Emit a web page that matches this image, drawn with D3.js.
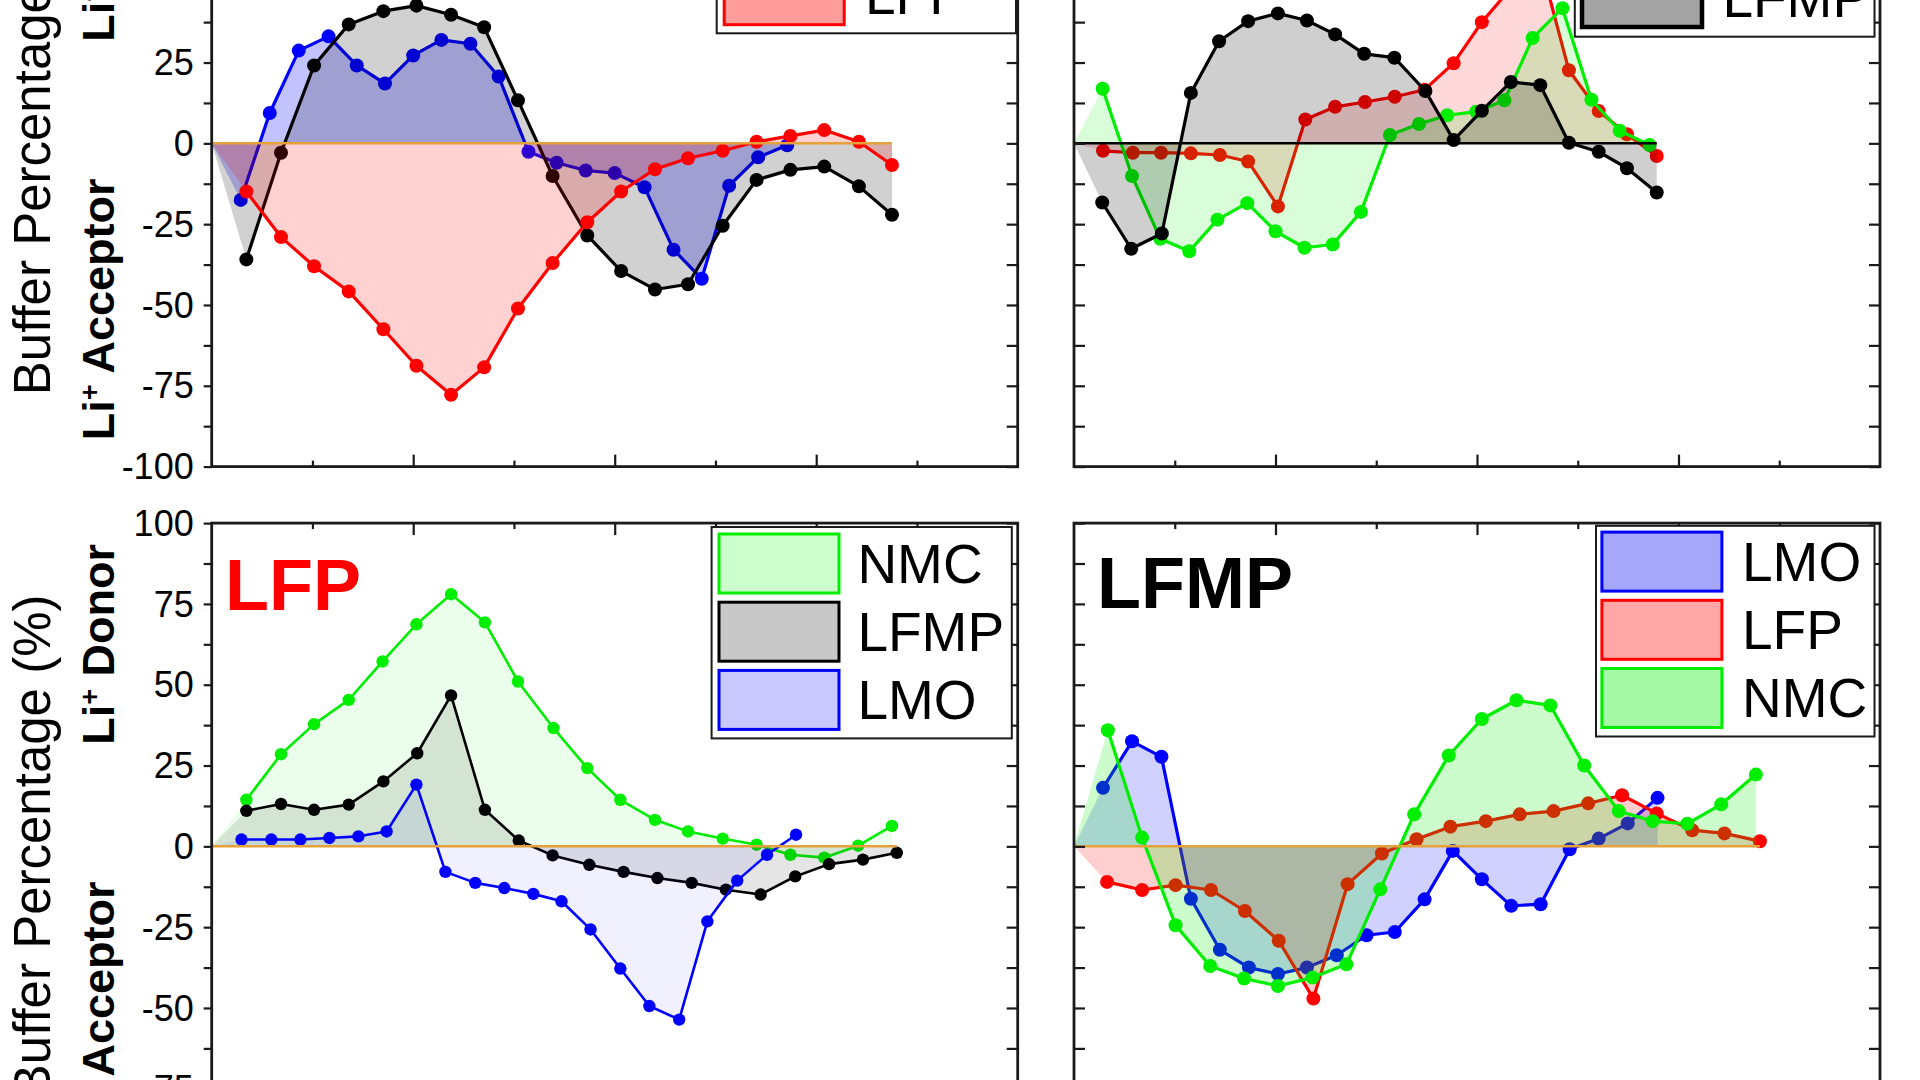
<!DOCTYPE html>
<html>
<head>
<meta charset="utf-8">
<script src="https://cdn.jsdelivr.net/npm/d3@7"></script>
<style>
  body { margin: 0; background: #fff; }
  svg { display: block; }
  text { font-family: "Liberation Sans", Arial, sans-serif; }
</style>
</head>
<body>
<svg id="svg"></svg>
<script>

// DATA  (x = position along the axis in %, y = buffer percentage in %)

// top-left panel (NMC)
var nmcLMO_x  = [3.6, 7.2, 10.8, 14.5, 18.0, 21.5, 25.0, 28.5, 32.1, 35.6, 39.3, 42.8, 46.4, 50.0, 53.7, 57.3, 60.8, 64.2, 67.8, 71.4];
var nmcLMO_y  = [-17.5, 9.4, 28.7, 33.1, 24.1, 18.5, 27.2, 32.0, 30.8, 20.7, -2.6, -6.0, -8.4, -9.2, -13.6, -32.9, -41.9, -13.1, -4.3, -0.6];
var nmcLFMP_x = [4.3, 8.6, 12.7, 17.0, 21.3, 25.4, 29.7, 33.8, 38.0, 42.3, 46.6, 50.8, 55.0, 59.1, 63.4, 67.6, 71.8, 76.0, 80.3, 84.4];
var nmcLFMP_y = [-35.9, -2.9, 24.1, 36.8, 40.9, 42.6, 39.8, 35.9, 13.3, -10.1, -28.5, -39.5, -45.2, -43.6, -25.5, -11.3, -8.2, -7.2, -13.3, -22.1];
var nmcLFP_x  = [4.3, 8.6, 12.7, 17.0, 21.3, 25.4, 29.7, 33.8, 38.0, 42.3, 46.6, 50.8, 55.0, 59.1, 63.4, 67.6, 71.8, 76.0, 80.3, 84.4];
var nmcLFP_y  = [-14.9, -29.0, -38.0, -45.8, -57.5, -68.8, -77.8, -69.3, -51.1, -37.0, -24.4, -14.9, -8.0, -4.6, -2.3, 0.5, 2.3, 4.1, 0.5, -6.7];

// top-right panel (LMO)
var lmoLFP_x  = [3.6, 7.3, 10.8, 14.5, 18.1, 21.6, 25.3, 28.7, 32.4, 36.1, 39.8, 43.5, 47.1, 50.6, 54.2, 57.9, 61.4, 65.1, 68.6, 72.3];
var lmoLFP_y  = [-2.3, -2.9, -2.9, -3.1, -3.6, -5.6, -19.5, 7.4, 11.3, 12.8, 14.4, 16.6, 24.8, 37.5, 48.0, 55.5, 22.6, 10.0, 2.8, -3.9];
var lmoNMC_x  = [3.55, 7.2, 10.7, 14.3, 17.8, 21.5, 25.0, 28.6, 32.1, 35.6, 39.2, 42.8, 46.3, 49.9, 53.4, 56.9, 60.6, 64.2, 67.7, 71.4];
var lmoNMC_y  = [16.9, -10.1, -29.5, -33.4, -23.6, -18.5, -27.2, -32.3, -31.3, -21.2, 2.6, 6.0, 8.7, 9.8, 13.3, 32.6, 41.8, 13.5, 3.9, -0.5];
var lmoLFMP_x = [3.5, 7.1, 10.9, 14.5, 18.0, 21.6, 25.3, 28.9, 32.4, 36.0, 39.75, 43.6, 47.1, 50.6, 54.2, 57.85, 61.4, 65.1, 68.6, 72.3];
var lmoLFMP_y = [-18.3, -32.6, -27.9, 15.6, 31.6, 37.8, 40.2, 38.0, 33.7, 27.7, 26.5, 16.2, 1.0, 10.1, 19.0, 18.0, 0.2, -2.6, -7.7, -15.2];

// bottom-left panel (LFP)
var lfpNMC_x  = [4.3, 8.6, 12.7, 17.0, 21.2, 25.4, 29.7, 33.9, 38.0, 42.4, 46.6, 50.7, 55.0, 59.1, 63.4, 67.6, 71.8, 76.0, 80.2, 84.4];
var lfpNMC_y  = [14.4, 28.5, 37.8, 45.3, 57.2, 68.7, 78.0, 69.3, 51.0, 36.6, 24.2, 14.4, 8.2, 4.6, 2.4, 0.5, -2.6, -3.5, 0.2, 6.3];
var lfpLFMP_x = [4.3, 8.6, 12.7, 17.0, 21.3, 25.5, 29.7, 33.9, 38.1, 42.3, 46.85, 51.1, 55.3, 59.55, 63.8, 68.1, 72.4, 76.6, 80.8, 85.0];
var lfpLFMP_y = [11.0, 13.1, 11.3, 12.9, 20.1, 28.8, 46.7, 11.3, 1.8, -2.8, -5.7, -7.9, -9.8, -11.3, -13.4, -14.9, -9.3, -5.5, -4.1, -2.0];
var lfpLMO_x  = [3.7, 7.4, 11.0, 14.6, 18.2, 21.7, 25.4, 29.0, 32.7, 36.3, 39.9, 43.4, 47.0, 50.7, 54.3, 58.0, 61.5, 65.2, 68.9, 72.5];
var lfpLMO_y  = [2.1, 2.1, 2.1, 2.6, 3.1, 4.6, 19.1, -7.9, -11.3, -12.9, -14.7, -17.0, -25.7, -37.8, -49.4, -53.6, -23.2, -10.6, -2.6, 3.6];

// bottom-right panel (LFMP)
var lfmpLMO_x = [3.6, 7.2, 10.85, 14.5, 18.1, 21.7, 25.3, 28.9, 32.6, 36.3, 39.8, 43.5, 47.0, 50.6, 54.25, 57.9, 61.5, 65.1, 68.7, 72.4];
var lfmpLMO_y = [18.1, 32.5, 27.7, -16.2, -32.0, -37.5, -39.5, -37.5, -33.7, -27.5, -26.5, -16.4, -1.4, -10.2, -18.4, -17.9, -0.9, 2.4, 7.1, 15.0];
var lfmpLFP_x = [4.1, 8.45, 12.6, 17.0, 21.2, 25.4, 29.7, 33.95, 38.2, 42.5, 46.7, 51.1, 55.3, 59.5, 63.8, 68.0, 72.3, 76.7, 80.7, 85.1];
var lfmpLFP_y = [-11.0, -13.5, -12.0, -13.5, -20.0, -29.2, -47.1, -11.7, -2.2, 2.2, 6.1, 7.8, 9.9, 10.9, 13.3, 15.8, 10.2, 5.0, 4.0, 1.6];
var lfmpNMC_x = [4.2, 8.45, 12.6, 16.9, 21.1, 25.3, 29.6, 33.8, 38.0, 42.2, 46.5, 50.6, 54.9, 59.1, 63.3, 67.6, 71.8, 76.1, 80.3, 84.6];
var lfmpNMC_y = [35.9, 2.7, -24.4, -37.0, -40.9, -43.2, -40.6, -36.5, -13.3, 9.9, 28.1, 39.4, 45.2, 43.6, 25.0, 10.9, 7.8, 7.0, 13.0, 22.2];

// axis ticks
var yTickValues = [-100, -87.5, -75, -62.5, -50, -37.5, -25, -12.5, 0, 12.5, 25, 37.5, 50, 62.5, 75, 87.5, 100];
var yTickLabels = [-100, -75, -50, -25, 0, 25, 50, 75, 100];
var xTickValues = [12.5, 25, 37.5, 50, 62.5, 75, 87.5];

// legend entries (only the ones that are in view)
var legendTL = ["LFP"];
var legendTR = ["LFMP"];
var legendBL = ["NMC", "LFMP", "LMO"];
var legendBR = ["LMO", "LFP", "NMC"];

var titleBL = "LFP";
var titleBR = "LFMP";


// SETUP

svg = d3.select("#svg")
          .attr("width", 1920)
          .attr("height", 1080);

svg.append("rect").attr("width",1920).attr("height",1080).attr("fill","#fff");

var PW = 806, PH = 646.5;   // plot box size

var colors = { LMO:"#0000ff", LFP:"#ff0000", LFMP:"#000000", NMC:"#00ee00" };

var panels = [
  { left:211.7, top:-179.9, zero:"#e6a23a", xAxis:"bottom", leftLabels:true,
    series:[ {name:"LMO",  x:nmcLMO_x,  y:nmcLMO_y,  a:0.24},
             {name:"LFMP", x:nmcLFMP_x, y:nmcLFMP_y, a:0.18},
             {name:"LFP",  x:nmcLFP_x,  y:nmcLFP_y,  a:0.18} ],
    legend:{ names:legendTL, x1:716.7, x2:1016, y1:-200, y2:33.3, sx:722.7, sy:-35.8, tx:865, fills:{LFP:"#ff9c9c"} } },
  { left:1074, top:-179.9, zero:"#000000", xAxis:"bottom", leftLabels:false,
    series:[ {name:"LFP",  x:lmoLFP_x,  y:lmoLFP_y,  a:0.15},
             {name:"NMC",  x:lmoNMC_x,  y:lmoNMC_y,  a:0.15},
             {name:"LFMP", x:lmoLFMP_x, y:lmoLFMP_y, a:0.19} ],
    legend:{ names:legendTR, x1:1574.8, x2:1874.5, y1:-200, y2:36.7, sx:1580.5, sy:-33.5, tx:1722.4, fills:{LFMP:"#a3a3a3"}, bw:4.5 } },
  { left:211.7, top:523.1, zero:"#e6a23a", xAxis:"top", leftLabels:true, thin:true,
    series:[ {name:"NMC",  x:lfpNMC_x,  y:lfpNMC_y,  a:0.08},
             {name:"LFMP", x:lfpLFMP_x, y:lfpLFMP_y, a:0.10},
             {name:"LMO",  x:lfpLMO_x,  y:lfpLMO_y,  a:0.06} ],
    legend:{ names:legendBL, x1:711.6, x2:1011.8, y1:527, y2:738.4, sx:717.5, sy:532.5, tx:857.4, fills:{NMC:"#ccffcc", LFMP:"#c8c8c8", LMO:"#c8c8ff"} },
    title:{ text:titleBL, x:225, y:610, color:"#ff0000" } },
  { left:1074, top:523.1, zero:"#e6a23a", xAxis:"top", leftLabels:false,
    series:[ {name:"LMO",  x:lfmpLMO_x, y:lfmpLMO_y, a:0.18},
             {name:"LFP",  x:lfmpLFP_x, y:lfmpLFP_y, a:0.19},
             {name:"NMC",  x:lfmpNMC_x, y:lfmpNMC_y, a:0.2} ],
    legend:{ names:legendBR, x1:1596, x2:1874.5, y1:525.8, y2:736.5, sx:1600.4, sy:530.6, tx:1742, fills:{LMO:"#a6a6fa", LFP:"#ffa6a6", NMC:"#a6faa6"} },
    title:{ text:titleBR, x:1097, y:607.5, color:"#000000" } }
];

panels.forEach(drawPanel);


function drawPanel(p){
  var g = svg.append("g");

  var xs = d3.scaleLinear().domain([0,100]).range([p.left, p.left+PW]);
  var ys = d3.scaleLinear().domain([-100,100]).range([p.top+PH, p.top]);

  var lw = p.thin ? 2.6 : 3.2, mr = p.thin ? 6.2 : 7;

  // series: fill to zero (starting at the origin), then line + markers
  p.series.forEach(function(s){
    var pts = s.x.map(function(v,i){ return [v, s.y[i]]; });
    var c = colors[s.name];

    var area = d3.area()
          .x(function(d){ return xs(d[0]); })
          .y0(ys(0))
          .y1(function(d){ return ys(d[1]); });

    g.append("path")
        .attr("d", area([[0,0]].concat(pts)))
        .attr("fill", c)
        .attr("fill-opacity", s.a);

    var line = d3.line()
          .x(function(d){ return xs(d[0]); })
          .y(function(d){ return ys(d[1]); });

    g.append("path")
        .attr("d", line(pts))
        .attr("fill","none")
        .attr("stroke", c)
        .attr("stroke-width", lw)
        .attr("stroke-linejoin","round");

    g.selectAll(null).data(pts).enter()
      .append("circle")
        .attr("cx", function(d){ return xs(d[0]); })
        .attr("cy", function(d){ return ys(d[1]); })
        .attr("r", mr)
        .attr("fill", c);
  });

  // zero line
  var xmax = d3.max(p.series, function(s){ return s.x[s.x.length-1]; });
  g.append("line")
      .attr("x1", xs(0)).attr("x2", xs(xmax))
      .attr("y1", ys(0)).attr("y2", ys(0))
      .attr("stroke", p.zero)
      .attr("stroke-width", 2.5);

  // frame
  g.append("rect")
      .attr("x", p.left).attr("y", p.top)
      .attr("width", PW).attr("height", PH)
      .attr("fill","none")
      .attr("stroke","#1a1a1a")
      .attr("stroke-width", 2.8);

  // y ticks, left side (outward with labels on the left column, inward otherwise)
  var yl = p.leftLabels
        ? d3.axisLeft(ys).tickValues(yTickValues).tickSize(8).tickFormat("")
        : d3.axisRight(ys).tickValues(yTickValues).tickSize(11).tickFormat("");
  var gyl = g.append("g").attr("transform","translate("+p.left+",0)").call(yl);
  styleAxis(gyl);

  if (p.leftLabels) {
    // only the labels that fall inside the picture
    var vis = yTickLabels.filter(function(v){ return ys(v) > 5 && ys(v) < 1100; });
    g.selectAll(null).data(vis).enter()
      .append("text")
        .attr("x", p.left-18)
        .attr("y", function(d){ return ys(d); })
        .attr("dy","0.35em")
        .attr("text-anchor","end")
        .attr("font-size",36)
        .text(function(d){ return d; });
  }

  // y ticks, right side (inward)
  var gyr = g.append("g").attr("transform","translate("+(p.left+PW)+",0)")
        .call(d3.axisLeft(ys).tickValues(yTickValues).tickSize(11).tickFormat(""));
  styleAxis(gyr);

  // x ticks on the shared edge (inward), major every 25
  var gx;
  if (p.xAxis == "bottom") {
    gx = g.append("g").attr("transform","translate(0,"+(p.top+PH)+")")
          .call(d3.axisTop(xs).tickValues(xTickValues).tickFormat(""));
    gx.selectAll(".tick line").attr("y2", function(d){ return d%25==0 ? -12 : -6; });
  } else {
    gx = g.append("g").attr("transform","translate(0,"+p.top+")")
          .call(d3.axisBottom(xs).tickValues(xTickValues).tickFormat(""));
    gx.selectAll(".tick line").attr("y2", function(d){ return d%25==0 ? 12 : 6; });
  }
  styleAxis(gx);

  // legend
  var L = p.legend;
  g.append("rect")
      .attr("x", L.x1).attr("y", L.y1)
      .attr("width", L.x2-L.x1).attr("height", L.y2-L.y1)
      .attr("fill","#fff")
      .attr("stroke","#1a1a1a")
      .attr("stroke-width", 2);

  L.names.forEach(function(n,i){
    var y = L.sy + i*68.2;
    g.append("rect")
        .attr("x", L.sx+1.5).attr("y", y+1.5)
        .attr("width", 120).attr("height", 59)
        .attr("fill", L.fills[n])
        .attr("stroke", colors[n])
        .attr("stroke-width", L.bw || 3);
    g.append("text")
        .attr("x", L.tx).attr("y", y+50)
        .attr("font-size", 55)
        .attr("fill","#000")
        .text(n);
  });

  if (p.title) {
    g.append("text")
        .attr("x", p.title.x).attr("y", p.title.y)
        .attr("font-size", 72)
        .attr("font-weight","bold")
        .attr("fill", p.title.color)
        .text(p.title.text);
  }

  if (p.leftLabels) yTitle(ys(0));
}

function styleAxis(ax){
  ax.select(".domain").remove();
  ax.selectAll(".tick text").remove();
  ax.selectAll(".tick line").attr("stroke","#1a1a1a").attr("stroke-width",2.2);
}

// rotated y axis titles, centred on the zero line of the row
function yTitle(y0){
  svg.append("text")
      .attr("transform","translate(50,"+y0+") rotate(-90)")
      .attr("text-anchor","middle")
      .attr("font-size",51)
      .text("Buffer Percentage (%)");

  var donor = svg.append("text")
      .attr("transform","translate(114,"+(y0-202)+") rotate(-90)")
      .attr("text-anchor","middle")
      .attr("font-size",45)
      .attr("font-weight","bold");
  donor.append("tspan").text("Li");
  donor.append("tspan").attr("baseline-shift","super").attr("font-size",27).text("+");
  donor.append("tspan").text(" Donor");

  var acc = svg.append("text")
      .attr("transform","translate(114,"+(y0+166)+") rotate(-90)")
      .attr("text-anchor","middle")
      .attr("font-size",45)
      .attr("font-weight","bold");
  acc.append("tspan").text("Li");
  acc.append("tspan").attr("baseline-shift","super").attr("font-size",27).text("+");
  acc.append("tspan").text(" Acceptor");
}

</script>
</body>
</html>
